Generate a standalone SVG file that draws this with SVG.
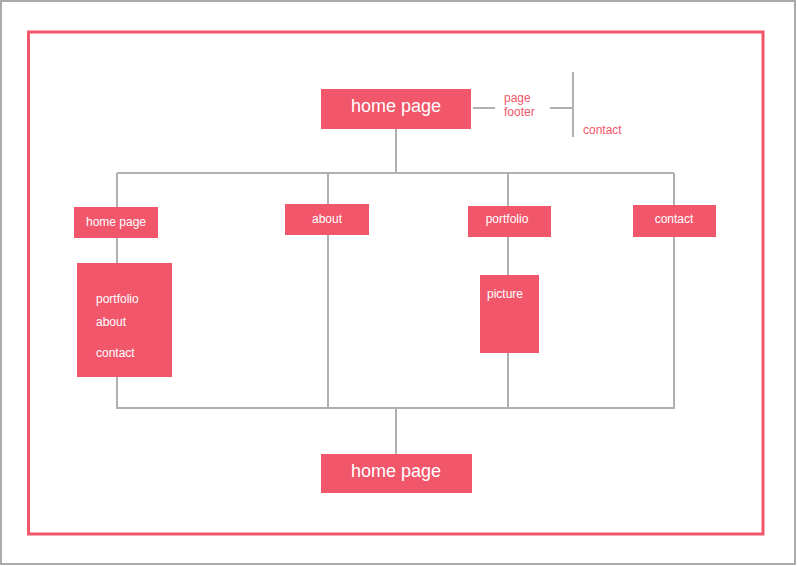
<svg xmlns="http://www.w3.org/2000/svg" width="797" height="566" viewBox="0 0 797 566">
<style>
.box{fill:#f1566b}
.t{font-family:"Liberation Sans",Arial,sans-serif;fill:#ffffff}
.s{font-size:12px}
.l{font-size:18px}
.r{font-family:"Liberation Sans",Arial,sans-serif;font-size:12px;fill:#f1566b}
.c{stroke:#b0b0b0;stroke-width:2;fill:none}
</style>
<rect x="1" y="1" width="794" height="563" fill="#ffffff" stroke="#aaaaaa" stroke-width="2"/>
<rect x="28.5" y="32" width="734.5" height="502" fill="none" stroke="#f1566b" stroke-width="3"/>
<g id="connectors">
<path class="c" d="M396 129V173M117 173H674M117 173V409M328 173V409M508 173V409M674 173V409M117 408H674M396 408V454"/>
<path class="c" d="M473 108H495M550 108H573M573 72V137"/>
</g>
<g id="home-top"><rect class="box" x="321" y="89" width="150" height="40"/><text class="t l" x="396" y="112" text-anchor="middle">home page</text></g>
<g id="page-footer"><text class="r" x="504" y="102">page</text><text class="r" x="504" y="116">footer</text></g>
<g id="footer-contact"><text class="r" x="583" y="134">contact</text></g>
<g id="home-left"><rect class="box" x="74" y="207" width="84" height="31"/><text class="t s" x="116" y="226" text-anchor="middle">home page</text></g>
<g id="home-list"><rect class="box" x="77" y="263" width="95" height="114"/><text class="t s" x="96" y="303">portfolio</text><text class="t s" x="96" y="326">about</text><text class="t s" x="96" y="357">contact</text></g>
<g id="about"><rect class="box" x="285" y="204" width="84" height="31"/><text class="t s" x="327" y="223" text-anchor="middle">about</text></g>
<g id="portfolio"><rect class="box" x="468" y="206" width="83" height="31"/><text class="t s" x="507" y="223" text-anchor="middle">portfolio</text></g>
<g id="picture"><rect class="box" x="480" y="275" width="59" height="78"/><text class="t s" x="487" y="298">picture</text></g>
<g id="contact"><rect class="box" x="633" y="205" width="83" height="32"/><text class="t s" x="674" y="223" text-anchor="middle">contact</text></g>
<g id="home-bottom"><rect class="box" x="321" y="454" width="151" height="39"/><text class="t l" x="396" y="477" text-anchor="middle">home page</text></g>
</svg>
